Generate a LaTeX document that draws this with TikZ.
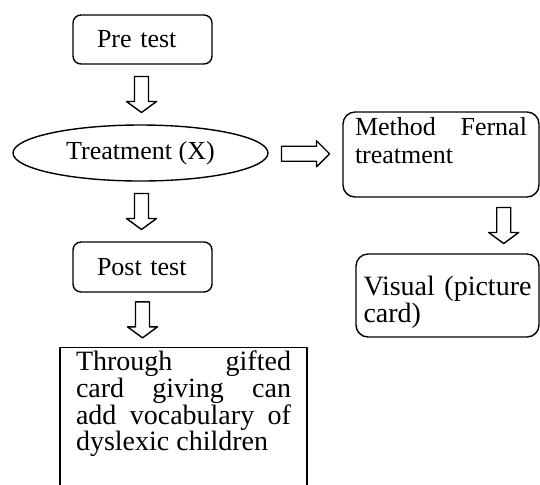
\documentclass[tikz,border=0pt]{standalone}
\usepackage{fontspec}
\setmainfont{Liberation Serif}
\usetikzlibrary{shapes.geometric,calc}
\tolerance=9999
\hyphenpenalty=10000

\tikzset{
	testbox/.style={draw, rounded corners=4pt, text width=45.5pt, inner xsep=12pt, align=left, minimum height=24.5pt, font=\fontsize{13}{14}\selectfont},
	bigbox/.style={draw, rounded corners=6pt, inner ysep=0pt, align=justify, font=\fontsize{13}{14}\selectfont},
	pics/downarrow/.style={code={
		\draw[fill=white] (-3.5pt,9pt) -- (3.5pt,9pt) -- (3.5pt,-3.5pt) -- (7.5pt,-3.5pt) -- (0,-9pt) -- (-7.5pt,-3.5pt) -- (-3.5pt,-3.5pt) -- cycle;
	}},
	pics/rightarrow/.style={code={
		\draw[fill=white] (-12pt,3.75pt) -- (5.5pt,3.75pt) -- (5.5pt,6.5pt) -- (12pt,0) -- (5.5pt,-6.5pt) -- (5.5pt,-3.75pt) -- (-12pt,-3.75pt) -- cycle;
	}}
}

\begin{document}
\begin{tikzpicture}[x=0.5pt, y=-0.5pt, line width=0.7pt, line join=round]
				\useasboundingbox (0,0) rectangle (540,484);
				
				% Left column
				\node[testbox] (pre) at (142.5,39.5) {Pre test};
				\node[draw, ellipse, inner sep=0pt, minimum width=127.5pt, minimum height=28pt, font=\fontsize{13}{14}\selectfont] (treat) at (140.5,153) {Treatment (X)};
				\node[testbox, minimum height=25pt] (post) at (142.5,267) {Post test};
				\node[draw, anchor=north, text width=107.5pt, inner xsep=8pt, inner ysep=0pt, text height=11.5pt, text depth=65pt, align=justify, font=\fontsize{14}{13.35}\selectfont] (result) at (183.5,347) {Through gifted card giving can add vocabulary of dyslexic children};
				
				% Right column
				\node[bigbox, text width=86pt, inner xsep=6pt, text height=11.5pt, text depth=31pt] (method) at (441,154.5) {Method Fernal treatment};
				\node[bigbox, text width=84pt, inner xsep=3.75pt, text height=20.5pt, text depth=21pt, font=\fontsize{14}{13.5}\selectfont] (visual) at (447.5,295.5) {Visual (picture card)};
				
				% Block arrows
				\coordinate (a1) at ($(pre.south)!.5!(treat.north)$);
				\coordinate (a2) at ($(treat.south)!.5!(post.north)$);
				\coordinate (a3) at ($(post.south)!.5!(result.north -| post.south)$);
				\coordinate (a4) at ($(treat.east)!.5!(method.west)$);
				\coordinate (a5) at ($(method.south east)!.5!(visual.north east)+(-18pt,0)$);
				\pic at (a1) {downarrow};
				\pic at (a2) {downarrow};
				\pic at (a3) {downarrow};
				\pic at (a4) {rightarrow};
				\pic at (a5) {downarrow};
\end{tikzpicture}
\end{document}
